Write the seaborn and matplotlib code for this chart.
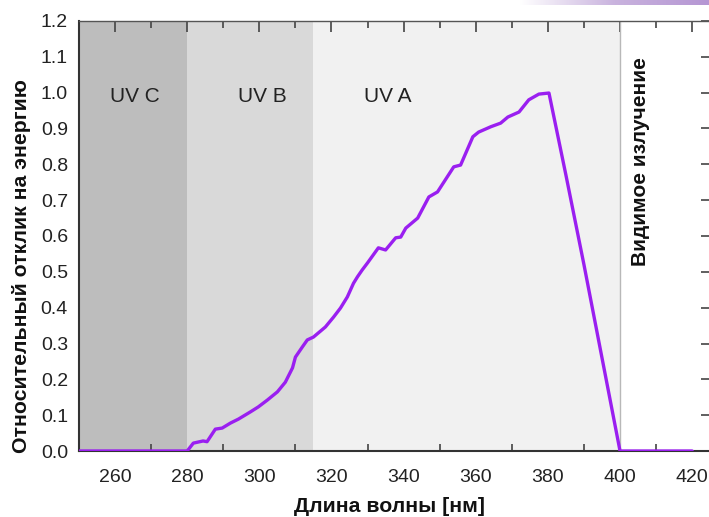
import numpy as np
import pandas as pd
import matplotlib
matplotlib.use("Agg")
import matplotlib.pyplot as plt
from matplotlib.ticker import MultipleLocator, FormatStrFormatter
from matplotlib.colors import LinearSegmentedColormap
import seaborn as sns

# ---- data ----
wavelength = [250, 280, 281.7, 284.4, 285.5, 287.8, 289.7, 292, 294.2, 297.5, 299.7,
              302.2, 305, 307.2, 309.2, 310, 311.9, 313.3, 315, 318.3, 320.6, 322.5,
              324.4, 326.1, 327.2, 328.5, 330, 333, 335, 337.8, 339.2, 340.6, 343.9,
              347, 349.4, 353.9, 355.8, 359.2, 360.8, 364.2, 366.9, 368.9, 372, 374.7,
              377.5, 380.3, 385, 390, 400, 420]
response = [0, 0, 0.022, 0.028, 0.026, 0.061, 0.064, 0.078, 0.089, 0.109, 0.123,
            0.142, 0.165, 0.192, 0.232, 0.262, 0.29, 0.31, 0.318, 0.346, 0.374, 0.399,
            0.43, 0.468, 0.486, 0.505, 0.525, 0.567, 0.561, 0.595, 0.597, 0.622, 0.65,
            0.709, 0.723, 0.793, 0.798, 0.877, 0.89, 0.905, 0.915, 0.932, 0.946, 0.98,
            0.996, 0.999, 0.77, 0.52, 0, 0]

band_edges = [250, 280, 315, 400]
band_labels = ["UV C", "UV B", "UV A"]
band_label_x = [265.5, 300.8, 335.5]
band_colors = ["#bdbdbd", "#d9d9d9", "#f1f1f1"]
visible_label = "Видимое излучение"
x_label = "Длина волны [нм]"
y_label = "Относительный отклик на энергию"

df = pd.DataFrame({"wl": wavelength, "resp": response})

sns.set_theme(style="white")
plt.rcParams["font.family"] = ["Liberation Sans", "DejaVu Sans"]

fig = plt.figure(figsize=(7.09, 5.17), dpi=100)
ax = fig.add_axes([79 / 709, 1 - 451 / 517, (712 - 79) / 709, (451 - 21) / 517])

for i, lab in enumerate(band_labels):
    ax.axvspan(band_edges[i], band_edges[i + 1], color=band_colors[i], lw=0, zorder=0)
    ax.text(band_label_x[i], 0.99, lab, ha="center", va="center", fontsize=15,
            color="#222222")
ax.axvline(band_edges[-1], color="#b8b8b8", lw=1, zorder=1)

sns.lineplot(data=df, x="wl", y="resp", ax=ax, color="#9a1ff0", lw=2.4,
             estimator=None, sort=False, zorder=3)

ax.text(405.8, 0.809, visible_label, rotation=90, ha="center", va="center",
        fontsize=15, fontweight="bold", color="#111111")

ax.set_xlim(250, 425.5)
ax.set_ylim(0, 1.2)
ax.xaxis.set_minor_locator(MultipleLocator(10))
ax.yaxis.set_major_locator(MultipleLocator(0.1))
ax.set_xticks(np.arange(260, 421, 20))
ax.yaxis.set_major_formatter(FormatStrFormatter("%.1f"))

ax.tick_params(axis="both", which="major", direction="in", length=8, width=1.2,
               color="#444444", labelsize=14, labelcolor="#222222",
               top=True, right=True)
ax.tick_params(axis="x", which="minor", direction="in", length=5, width=1.2,
               color="#444444", top=True, bottom=True)
ax.tick_params(axis="x", which="major", pad=13)
ax.tick_params(axis="y", which="major", pad=8)

for side in ["left", "bottom"]:
    ax.spines[side].set_color("#333333")
    ax.spines[side].set_linewidth(1.5)
ax.spines["top"].set_color("#555555")
ax.spines["top"].set_linewidth(1.0)
ax.spines["right"].set_visible(False)

ax.set_xlabel(x_label, fontsize=15.3, fontweight="bold", color="#111111")
ax.set_ylabel(y_label, fontsize=15.3, fontweight="bold", color="#111111")
ax.xaxis.set_label_coords((390 - 79) / (712 - 79), -0.108)
ax.yaxis.set_label_coords((31 - 79) / (712 - 79), 0.43)

# thin decorative gradient strip at top
gax = fig.add_axes([520 / 709, 1 - 5 / 517, 189 / 709, 5 / 517])
grad = np.linspace(0, 1, 256).reshape(1, -1)
cmap = LinearSegmentedColormap.from_list("g", ["#ffffff", "#c9b3de", "#b596d3"])
gax.imshow(grad, aspect="auto", cmap=cmap)
gax.axis("off")

fig.savefig("out.png", dpi=100)
